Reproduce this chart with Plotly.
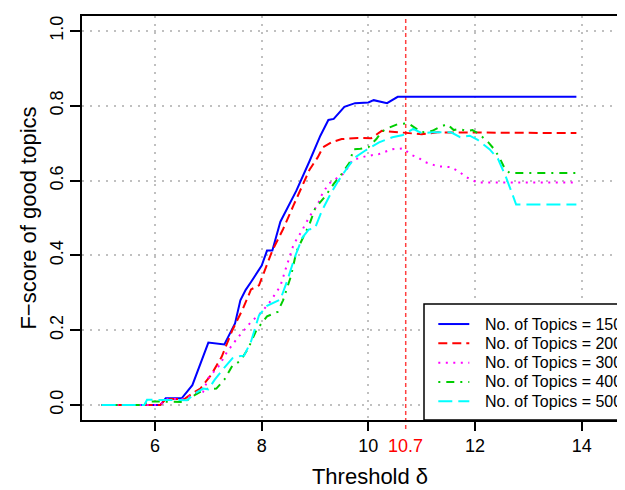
import plotly.graph_objects as go

# ---- data ----
x150 = [5.0, 6.1, 6.2, 6.5, 6.7, 7.0, 7.3, 7.5, 7.6, 7.7, 7.8, 8.0, 8.1, 8.2, 8.35, 8.5, 8.65, 8.9,
        9.1, 9.25, 9.35, 9.55, 9.75, 10.0, 10.1, 10.35, 10.55, 13.9]
y150 = [0, 0, 0.018, 0.018, 0.053, 0.167, 0.162, 0.218, 0.28, 0.308, 0.329, 0.373, 0.413, 0.413,
        0.49, 0.533, 0.573, 0.653, 0.72, 0.762, 0.765, 0.797, 0.807, 0.809, 0.815, 0.807, 0.824, 0.824]

x200 = [5.0, 6.1, 6.2, 6.55, 6.7, 6.85, 7.05, 7.25, 7.45, 7.65, 7.8, 7.95, 8.2, 8.4, 8.6, 8.8, 8.9,
        9.05, 9.15, 9.3, 9.5, 9.8, 10.05, 10.25, 10.45, 10.65, 11.0, 11.3, 13.9]
y200 = [0, 0, 0.016, 0.016, 0.031, 0.044, 0.08, 0.129, 0.2, 0.258, 0.309, 0.32, 0.413, 0.47, 0.535,
        0.6, 0.63, 0.662, 0.689, 0.702, 0.711, 0.714, 0.713, 0.733, 0.731, 0.727, 0.724, 0.729, 0.727]

x300 = [5.0, 6.1, 6.2, 6.55, 6.7, 6.9, 7.0, 7.2, 7.35, 7.55, 7.8, 8.0, 8.15, 8.35, 8.45, 8.6, 8.75,
        8.9, 9.05, 9.1, 9.25, 9.35, 9.55, 9.7, 9.95, 10.2, 10.45, 10.65, 10.8, 10.95, 11.05, 11.2,
        11.3, 11.55, 11.7, 11.8, 11.9, 12.05, 13.9]
y300 = [0, 0, 0.016, 0.016, 0.028, 0.035, 0.072, 0.105, 0.142, 0.18, 0.222, 0.249, 0.275, 0.318,
        0.364, 0.43, 0.465, 0.505, 0.535, 0.555, 0.591, 0.6, 0.62, 0.655, 0.665, 0.671, 0.684, 0.686,
        0.669, 0.66, 0.65, 0.643, 0.638, 0.636, 0.624, 0.613, 0.604, 0.595, 0.595]

x400 = [5.0, 5.8, 5.85, 6.55, 6.75, 6.95, 7.15, 7.3, 7.45, 7.6, 7.75, 7.9, 8.1, 8.3, 8.4, 8.55, 8.65,
        8.75, 8.9, 9.0, 9.2, 9.35, 9.5, 9.65, 9.72, 9.85, 10.0, 10.15, 10.25, 10.4, 10.55, 10.75,
        10.9, 11.0, 11.2, 11.35, 11.48, 11.6, 11.7, 11.85, 11.95, 12.08, 12.25, 12.37, 12.47, 12.55,
        12.65, 13.9]
y400 = [0, 0, 0.01, 0.008, 0.027, 0.043, 0.044, 0.068, 0.105, 0.118, 0.152, 0.2, 0.237, 0.249, 0.28,
        0.345, 0.41, 0.44, 0.485, 0.525, 0.56, 0.591, 0.618, 0.649, 0.684, 0.685, 0.689, 0.711,
        0.731, 0.742, 0.751, 0.753, 0.738, 0.729, 0.733, 0.744, 0.751, 0.735, 0.738, 0.733, 0.735,
        0.724, 0.702, 0.682, 0.658, 0.634, 0.62, 0.62]

x500 = [5.0, 5.8, 5.85, 6.6, 6.75, 6.9, 7.0, 7.12, 7.3, 7.45, 7.6, 7.67, 7.8, 7.95, 8.1, 8.35, 8.48,
        8.62, 8.76, 8.88, 9.0, 9.13, 9.29, 9.44, 9.6, 9.75, 9.95, 10.2, 10.45, 10.65, 10.84, 11.0,
        11.2, 11.55, 11.72, 11.9, 12.05, 12.27, 12.43, 12.58, 12.71, 12.77, 13.9]
y500 = [0, 0, 0.014, 0.013, 0.031, 0.044, 0.042, 0.068, 0.1, 0.125, 0.131, 0.132, 0.17, 0.24, 0.265,
        0.282, 0.333, 0.395, 0.447, 0.469, 0.473, 0.52, 0.564, 0.6, 0.633, 0.662, 0.681, 0.702,
        0.716, 0.722, 0.738, 0.727, 0.729, 0.729, 0.716, 0.72, 0.709, 0.684, 0.658, 0.609, 0.56,
        0.536, 0.536]

series_names = ["No. of Topics = 150", "No. of Topics = 200", "No. of Topics = 300",
                "No. of Topics = 400", "No. of Topics = 500"]
x_ticks = [6, 8, 10, 12, 14]
y_ticks = [0.0, 0.2, 0.4, 0.6, 0.8, 1.0]
y_ticklabels = ["0.0", "0.2", "0.4", "0.6", "0.8", "1.0"]
threshold = 10.7

FONT = "Liberation Sans, Arial, Helvetica, sans-serif"

styles = [
    dict(color="#0000FF", dash="solid"),
    dict(color="#FF0000", dash="9px,5px"),
    dict(color="#FF00FF", dash="2px,5.5px"),
    dict(color="#00CD00", dash="2px,6px,8px,6px"),
    dict(color="#00FFFF", dash="14px,6px"),
]

# The page body adds an 8px offset; the figure is laid out so that, seen through the
# 625x490 window, the plot box sits where the reference has it.  The right part of the
# plot box (as in the reference) lies outside the visible window.
OFF = 8
W, H = 650, 500
L, R, T = 74, 0, 7.5
PLOT_BOTTOM = 412.5
B = H - PLOT_BOTTOM
PW, PH = W - L - R, H - T - B


def px_x(ref_px):
    return (ref_px - OFF - L) / PW


def px_y(ref_py):
    return (PLOT_BOTTOM - (ref_py - OFF)) / PH


fig = go.Figure()
for (xs, ys), name, st in zip([(x150, y150), (x200, y200), (x300, y300), (x400, y400), (x500, y500)],
                              series_names, styles):
    fig.add_trace(go.Scatter(x=xs, y=ys, mode="lines", name=name, showlegend=False,
                             line=dict(color=st["color"], dash=st["dash"], width=2)))

# vertical threshold line (with a red tick below the axis)
fig.add_shape(type="line", xref="x", yref="paper", x0=threshold, x1=threshold,
              y0=-9 / PH, y1=1,
              line=dict(color="rgba(255,0,0,0.75)", width=1.5, dash="4px,3px"), layer="below")
fig.add_annotation(x=threshold, xref="x", y=0, yref="paper", yshift=-26, yanchor="middle",
                   text=str(threshold), showarrow=False,
                   font=dict(color="#FF0000", size=18, family=FONT))

# legend box drawn in the style of R's legend("bottomright")
fig.add_shape(type="rect", xref="paper", yref="paper", x0=px_x(424), x1=1.0, y0=0, y1=px_y(304.3),
              line=dict(color="black", width=1.5), fillcolor="white", layer="above")
row_y = [324.3, 343.6, 363.0, 382.4, 401.7]
for name, st, ry in zip(series_names, styles, row_y):
    fig.add_shape(type="line", xref="paper", yref="paper", x0=px_x(438.3), x1=px_x(469.3),
                  y0=px_y(ry), y1=px_y(ry), line=dict(color=st["color"], dash=st["dash"], width=2),
                  layer="above")
    fig.add_annotation(xref="paper", yref="paper", x=px_x(482.5), y=px_y(ry), xanchor="left",
                       yanchor="middle", text=name, showarrow=False,
                       font=dict(size=16, family=FONT, color="black"))

fig.update_layout(
    width=W, height=H,
    margin=dict(l=L, r=R, t=T, b=B, autoexpand=False),
    paper_bgcolor="white", plot_bgcolor="white",
    font=dict(family=FONT, size=18, color="black"),
    showlegend=False,
    xaxis=dict(range=[4.631, 15.43], tickvals=x_ticks, ticktext=[str(v) for v in x_ticks],
               showgrid=True, gridcolor="#C0C0C0", gridwidth=2, griddash="2px,6px",
               zeroline=False, showline=True, mirror=True, linecolor="black", linewidth=1.5,
               ticks="outside", ticklen=9, tickwidth=1.5, tickcolor="black",
               tickfont=dict(size=18), automargin=False,
               title=dict(text="Threshold δ", font=dict(size=22), standoff=13)),
    yaxis=dict(range=[-0.04, 1.04], tickvals=y_ticks, ticktext=y_ticklabels,
               tickangle=-90,
               showgrid=True, gridcolor="#C0C0C0", gridwidth=2, griddash="2px,6px",
               zeroline=False, showline=True, linecolor="black", linewidth=1.5,
               ticks="outside", ticklen=10, tickwidth=1.5, tickcolor="black",
               tickfont=dict(size=18), automargin=False,
               title=dict(text="F\u2212score of good topics", font=dict(size=22), standoff=4)),
)

fig.write_html("out.html")
